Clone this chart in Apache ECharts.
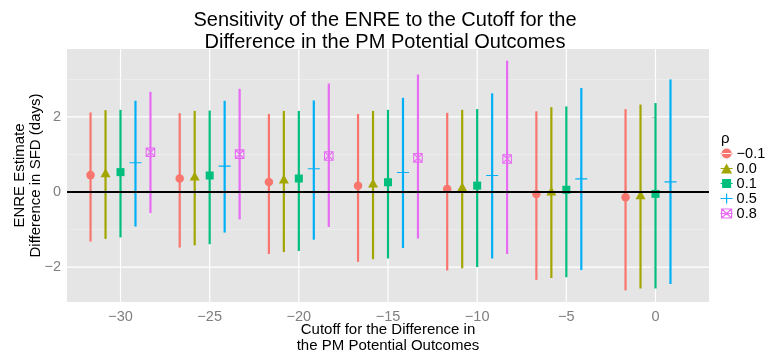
<!DOCTYPE html>
<html><head><meta charset="utf-8">
<script src="https://cdn.jsdelivr.net/npm/echarts@6/dist/echarts.min.js"></script>
<style>html,body{margin:0;padding:0;background:#fff}#c{width:770px;height:358px}</style>
</head><body><div id="c"></div>
<script>
// ---- data ----
const cutoffs = [-30, -25, -20, -15, -10, -5, 0];
const rhoLabels = ['\u22120.1', '0.0', '0.1', '0.5', '0.8'];

const est_m01 = [0.45, 0.36, 0.27, 0.17, 0.08, -0.05, -0.14];
const lo_m01  = [-1.32, -1.48, -1.65, -1.86, -2.09, -2.34, -2.62];
const hi_m01  = [2.12, 2.10, 2.08, 2.08, 2.11, 2.15, 2.21];

const est_00 = [0.51, 0.43, 0.35, 0.24, 0.14, 0.03, -0.07];
const lo_00  = [-1.25, -1.42, -1.60, -1.79, -2.03, -2.29, -2.57];
const hi_00  = [2.18, 2.16, 2.16, 2.16, 2.19, 2.26, 2.33];

const est_01 = [0.53, 0.44, 0.36, 0.26, 0.17, 0.06, -0.05];
const lo_01  = [-1.21, -1.39, -1.57, -1.77, -2.00, -2.27, -2.57];
const hi_01  = [2.19, 2.17, 2.16, 2.19, 2.21, 2.28, 2.37];

const est_05 = [0.78, 0.69, 0.62, 0.52, 0.44, 0.35, 0.27];
const lo_05  = [-0.92, -1.08, -1.27, -1.49, -1.77, -2.08, -2.45];
const hi_05  = [2.43, 2.43, 2.44, 2.51, 2.63, 2.77, 3.00];

const est_08 = [1.06, 1.01, 0.96, 0.91, 0.88, null, null];
const lo_08  = [-0.56, -0.73, -0.93, -1.24, -1.65, null, null];
const hi_08  = [2.67, 2.75, 2.89, 3.13, 3.50, null, null];

const xTicks = [-30, -25, -20, -15, -10, -5, 0];
const yTicks = [-2, 0, 2];
const yMinor = [-1, 1, 3];
const zeroLine = [0];

// ---- styling ----
const FONT = '"Liberation Sans", Arial, Helvetica, sans-serif';
const colors = ['#F8766D', '#A3A500', '#00BF7D', '#00B0F6', '#E76BF3'];
const dodge = [-1.68, -0.84, 0, 0.84, 1.68];
const ests = [est_m01, est_00, est_01, est_05, est_08];
const los = [lo_m01, lo_00, lo_01, lo_05, lo_08];
const his = [hi_m01, hi_00, hi_01, hi_05, hi_08];

const pointSymbols = [
  {symbol: 'circle', size: 8.5, fill: true},
  {symbol: 'triangle', size: [10, 9], fill: true},
  {symbol: 'rect', size: 8, fill: true},
  {symbol: 'path://M0,6L12,6M6,0L6,12', size: 12, fill: false},
  {symbol: 'path://M0,0L10,0L10,10L0,10ZM0,0L10,10M10,0L0,10', size: 8.5, fill: false}
];
const legendIcons = [
  'path://M0,4.4h12v1.2h-12zM1,5a5,5 0 1,0 10,0a5,5 0 1,0 -10,0z',
  'path://M0,4.4h12v1.2h-12zM6,0L11.5,10L0.5,10z',
  'path://M0,4.4h12v1.2h-12zM1.5,0.5h9v9h-9z',
  'path://M0,5L12,5M6,0L6,10',
  'path://M1,0.5L11,0.5L11,9.5L1,9.5ZM1,0.5L11,9.5M11,0.5L1,9.5M0,5L12,5'
];

const fmt = v => String(v).replace('-', '\u2212');

const series = [];
// panel grid lines
series.push({
  type: 'custom', name: 'gridlines', silent: true, z: 1, clip: true,
  data: [].concat(
    xTicks.map(v => [v, 0, 0]),
    yTicks.map(v => [-10, v, 1]),
    yMinor.map(v => [-10, v, 2])
  ),
  renderItem(params, api) {
    const cs = params.coordSys;
    const t = api.value(2);
    if (t === 0) {
      const x = api.coord([api.value(0), 0])[0];
      return {type: 'line', shape: {x1: x, y1: cs.y, x2: x, y2: cs.y + cs.height},
        style: {stroke: '#FFFFFF', lineWidth: 1.2}};
    }
    const y = api.coord([0, api.value(1)])[1];
    return {type: 'line', shape: {x1: cs.x, y1: y, x2: cs.x + cs.width, y2: y},
      style: {stroke: t === 1 ? '#FFFFFF' : '#F2F2F2', lineWidth: t === 1 ? 1.2 : 0.6}};
  }
});

for (let i = 0; i < 5; i++) {
  const rng = [];
  const pts = [];
  cutoffs.forEach((c, j) => {
    if (ests[i][j] == null) return;
    rng.push([c + dodge[i], los[i][j], his[i][j]]);
    pts.push([c + dodge[i], ests[i][j]]);
  });
  series.push({
    type: 'custom', name: rhoLabels[i] + ' range', silent: true, z: 2, clip: true,
    data: rng,
    renderItem(params, api) {
      const p1 = api.coord([api.value(0), api.value(1)]);
      const p2 = api.coord([api.value(0), api.value(2)]);
      return {type: 'line', shape: {x1: p1[0], y1: p1[1], x2: p2[0], y2: p2[1]},
        style: {stroke: colors[i], lineWidth: 2.2}};
    }
  });
  const ps = pointSymbols[i];
  series.push({
    type: 'scatter', name: rhoLabels[i], z: 3,
    symbol: ps.symbol, symbolSize: ps.size, symbolKeepAspect: true,
    itemStyle: ps.fill ? {color: colors[i], opacity: 1}
                       : {color: 'transparent', borderColor: colors[i], borderWidth: 1.1, opacity: 1},
    data: pts
  });
}

// zero reference line
series.push({
  type: 'custom', name: 'zero', silent: true, z: 5, clip: true,
  data: zeroLine.map(v => [-10, v]),
  renderItem(params, api) {
    const cs = params.coordSys;
    const y = api.coord([0, api.value(1)])[1];
    return {type: 'line', shape: {x1: cs.x, y1: y, x2: cs.x + cs.width, y2: y},
      style: {stroke: '#000000', lineWidth: 1.8}};
  }
});

const chart = echarts.init(document.getElementById('c'), null, {renderer: 'canvas'});
chart.setOption({
  animation: false,
  textStyle: {fontFamily: FONT},
  title: [
    {text: 'Sensitivity of the ENRE to the Cutoff for the\nDifference in the PM Potential Outcomes',
     left: 'center', top: 4,
     textStyle: {fontFamily: FONT, fontSize: 20, lineHeight: 22, fontWeight: 'normal', color: '#000'}},
    {text: '\u03C1', left: 716, top: 126,
     textStyle: {fontFamily: FONT, fontSize: 15, fontWeight: 'normal', color: '#000'}}
  ],
  grid: {left: 67, right: 61, top: 49, bottom: 56, show: true, backgroundColor: '#E5E5E5', borderWidth: 0,
         containLabel: false, outerBoundsMode: 'none'},
  xAxis: {
    type: 'value', min: -33, max: 3,
    name: 'Cutoff for the Difference in\nthe PM Potential Outcomes',
    nameLocation: 'middle', nameGap: 19.5, nameMoveOverlap: false,
    nameTextStyle: {fontFamily: FONT, fontSize: 15, lineHeight: 16.5, color: '#000'},
    axisLine: {show: false},
    splitLine: {show: false},
    axisTick: {show: true, customValues: xTicks, length: 4, lineStyle: {color: '#7F7F7F', width: 1}},
    axisLabel: {customValues: xTicks, formatter: fmt, color: '#7F7F7F', fontSize: 14.5, margin: 7, fontFamily: FONT}
  },
  yAxis: {
    type: 'value', min: -2.93, max: 3.81,
    name: 'ENRE Estimate\nDifference in SFD (days)',
    nameLocation: 'middle', nameGap: 23.5, nameRotate: 90, nameMoveOverlap: false,
    nameTextStyle: {fontFamily: FONT, fontSize: 15, lineHeight: 15.5, color: '#000'},
    axisLine: {show: false},
    splitLine: {show: false},
    axisTick: {show: true, customValues: yTicks, length: 4, lineStyle: {color: '#7F7F7F', width: 1}},
    axisLabel: {customValues: yTicks, formatter: fmt, color: '#7F7F7F', fontSize: 14.5, margin: 6, fontFamily: FONT}
  },
  legend: {
    orient: 'vertical', left: 715, top: 141,
    itemWidth: 12, itemHeight: 10, itemGap: 0,
    symbolKeepAspect: true,
    textStyle: {fontFamily: FONT, fontSize: 14.5, lineHeight: 14, color: '#000', padding: [0, 0, 0, -1]},
    data: rhoLabels.map((n, i) => ({
      name: n, icon: legendIcons[i],
      itemStyle: pointSymbols[i].fill ? {color: colors[i], borderWidth: 0, opacity: 1}
        : {color: 'transparent', borderColor: colors[i], borderWidth: 1.2, opacity: 1}
    }))
  },
  series: series
});
</script>
</body></html>
